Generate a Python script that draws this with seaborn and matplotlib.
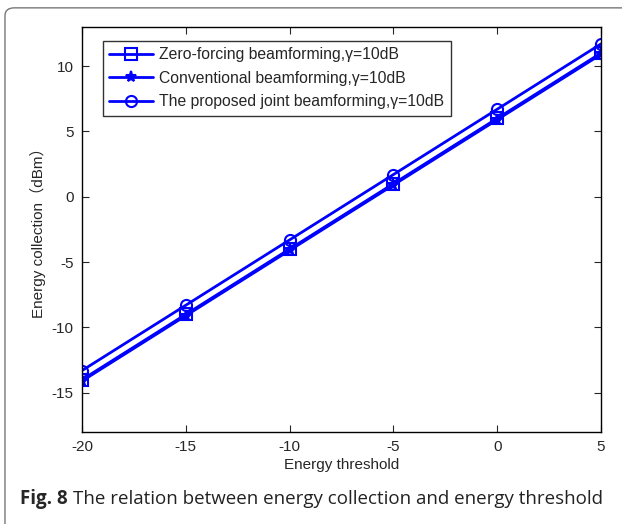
import pandas as pd
import numpy as np
import matplotlib
matplotlib.use("Agg")
from matplotlib import pyplot as plt
from matplotlib.patches import FancyBboxPatch
import seaborn as sns

threshold = [-20, -15, -10, -5, 0, 5]
zero_forcing = [-14.0, -9.0, -4.0, 1.0, 6.0, 11.0]
conventional = [-14.1, -9.1, -4.1, 0.9, 5.9, 10.9]
proposed = [-13.3, -8.3, -3.3, 1.7, 6.7, 11.7]
labels = ["Zero-forcing beamforming,\u03b3=10dB",
          "Conventional beamforming,\u03b3=10dB",
          "The proposed joint beamforming,\u03b3=10dB"]

sns.set_style("ticks")
plt.rcParams['font.family'] = ['Liberation Sans', 'Noto Sans CJK SC', 'DejaVu Sans']
plt.rcParams['axes.unicode_minus'] = False

df = pd.DataFrame({
    "x": threshold * 3,
    "y": zero_forcing + conventional + proposed,
    "method": [labels[0]] * 6 + [labels[1]] * 6 + [labels[2]] * 6,
})

fig = plt.figure(figsize=(6.22, 5.24), dpi=100)
# rounded frame around figure
frame = FancyBboxPatch((0.008, -0.05), 1.2, 1.035, boxstyle="round,pad=0,rounding_size=0.015",
                       transform=fig.transFigure, fill=False, edgecolor="#777777", linewidth=1.0)
fig.patches.append(frame)

ax = fig.add_axes([0.1318, 0.1756, 0.8344, 0.773])
markers = {labels[0]: "s", labels[1]: "*", labels[2]: "o"}
for lab in labels:
    sub = df[df["method"] == lab]
    sns.lineplot(data=sub, x="x", y="y", ax=ax, color="#0000ff", linewidth=2.0,
                 marker=markers[lab], markersize=8, markeredgewidth=1.5,
                 markerfacecolor="#0000ff" if markers[lab] == "*" else "none",
                 markeredgecolor="#0000ff", label=lab)

ax.set_xlim(-20, 5)
ax.set_ylim(-18, 13)
ax.set_xticks([-20, -15, -10, -5, 0, 5])
ax.set_yticks([-15, -10, -5, 0, 5, 10])
ax.tick_params(direction="in", top=True, right=True, labelsize=11, length=5, pad=6)
for s in ax.spines.values():
    s.set_linewidth(1.0)
    s.set_color("black")
ax.set_xlabel("Energy threshold", fontsize=11, labelpad=3)
ax.set_ylabel("Energy collection\uff08dBm\uff09", fontsize=11)

leg = ax.legend(loc="upper left", bbox_to_anchor=(0.025, 0.985), fontsize=11.3,
                frameon=True, fancybox=False, edgecolor="black", handlelength=2.8,
                borderpad=0.4, labelspacing=0.55, handletextpad=0.4)
leg.get_frame().set_linewidth(1.0)

fig.text(0.032, 0.038, "Fig. 8", fontsize=13.5, fontweight="bold", family="Open Sans")
fig.text(0.118, 0.038, "The relation between energy collection and energy threshold",
         fontsize=13.5, family="Open Sans", color="#222222")

fig.savefig("out.png", dpi=100)
